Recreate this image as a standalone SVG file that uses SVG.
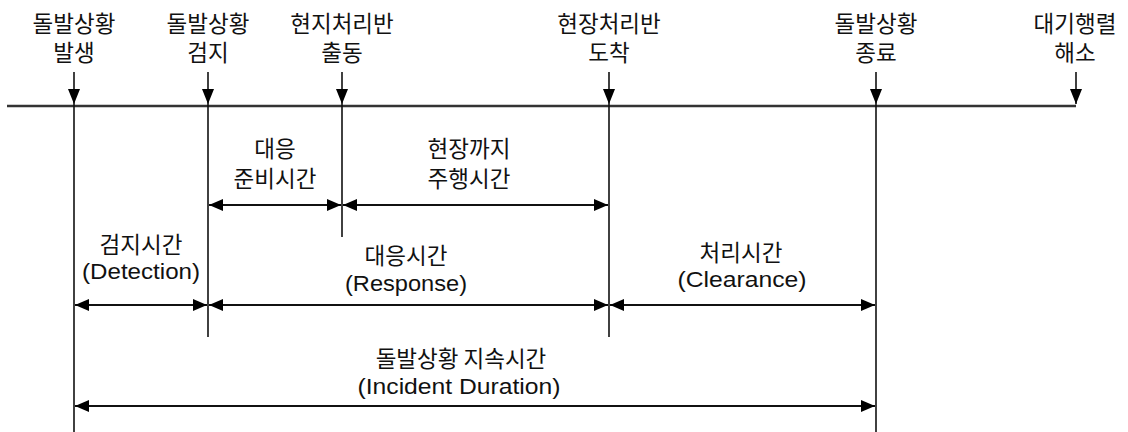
<svg xmlns="http://www.w3.org/2000/svg" width="1128" height="432" viewBox="0 0 1128 432">
<style>
text{font-family:"Noto Sans CJK KR","Liberation Sans",sans-serif;font-size:22.5px;fill:#111;text-anchor:middle}
.en{font-family:"Liberation Sans","Noto Sans CJK KR",sans-serif;font-size:22px}
.ln{stroke:#111;stroke-width:1.6;fill:none}
.ar{stroke:#111;stroke-width:1.8;fill:none;marker-start:url(#ah);marker-end:url(#ah)}
</style>
<defs>
<marker id="ah" viewBox="0 0 14 12" refX="14" refY="6" markerWidth="14" markerHeight="12" orient="auto-start-reverse" markerUnits="userSpaceOnUse"><path d="M0,0 L14,6 L0,12 z" fill="#000"/></marker>
</defs>
<rect width="1128" height="432" fill="#fff"/>
<g id="timeline">
<line x1="7" y1="106" x2="1076" y2="106" stroke="#333" stroke-width="2.4"/>
</g>
<g id="e1"><text x="74" y="32">돌발상황</text><text x="74" y="61">발생</text></g>
<g id="e2"><text x="208" y="32">돌발상황</text><text x="208" y="61">검지</text></g>
<g id="e3"><text x="342" y="32">현지처리반</text><text x="342" y="61">출동</text></g>
<g id="e4"><text x="609" y="32">현장처리반</text><text x="609" y="61">도착</text></g>
<g id="e5"><text x="876" y="32">돌발상황</text><text x="876" y="61">종료</text></g>
<g id="e6"><text x="1075" y="32">대기행렬</text><text x="1075" y="61">해소</text></g>
<g id="l1"><text x="275" y="157">대응</text><text x="275" y="187">준비시간</text></g>
<g id="l2"><text x="469" y="157">현장까지</text><text x="469" y="187">주행시간</text></g>
<g id="l3"><text x="141" y="253">검지시간</text><text class="en" x="141" y="279" textLength="118" lengthAdjust="spacingAndGlyphs">(Detection)</text></g>
<g id="l4"><text x="406" y="264">대응시간</text><text class="en" x="406" y="291" textLength="122" lengthAdjust="spacingAndGlyphs">(Response)</text></g>
<g id="l5"><text x="741" y="261">처리시간</text><text class="en" x="742" y="287" textLength="129" lengthAdjust="spacingAndGlyphs">(Clearance)</text></g>
<g id="l6"><text x="461" y="367">돌발상황 지속시간</text><text class="en" x="459" y="394" textLength="203" lengthAdjust="spacingAndGlyphs">(Incident Duration)</text></g>
<g id="connectors">
<line class="ln" x1="74" y1="72" x2="74" y2="432"/>
<line class="ln" x1="208" y1="72" x2="208" y2="337"/>
<line class="ln" x1="342" y1="72" x2="342" y2="237"/>
<line class="ln" x1="609" y1="72" x2="609" y2="337"/>
<line class="ln" x1="876" y1="72" x2="876" y2="432"/>
<line class="ln" x1="1076" y1="72" x2="1076" y2="104"/>
<path d="M68,89 L80,89 L74,104 z"/>
<path d="M202,89 L214,89 L208,104 z"/>
<path d="M336,89 L348,89 L342,104 z"/>
<path d="M603,89 L615,89 L609,104 z"/>
<path d="M870,89 L882,89 L876,104 z"/>
<path d="M1070,89 L1082,89 L1076,104 z"/>
<line class="ar" x1="209" y1="205" x2="341" y2="205"/>
<line class="ar" x1="343" y1="205" x2="608" y2="205"/>
<line class="ar" x1="75" y1="305" x2="207" y2="305"/>
<line class="ar" x1="209" y1="305" x2="608" y2="305"/>
<line class="ar" x1="610" y1="305" x2="875" y2="305"/>
<line class="ar" x1="75" y1="406" x2="875" y2="406" stroke-width="2.4"/>
</g>
</svg>
